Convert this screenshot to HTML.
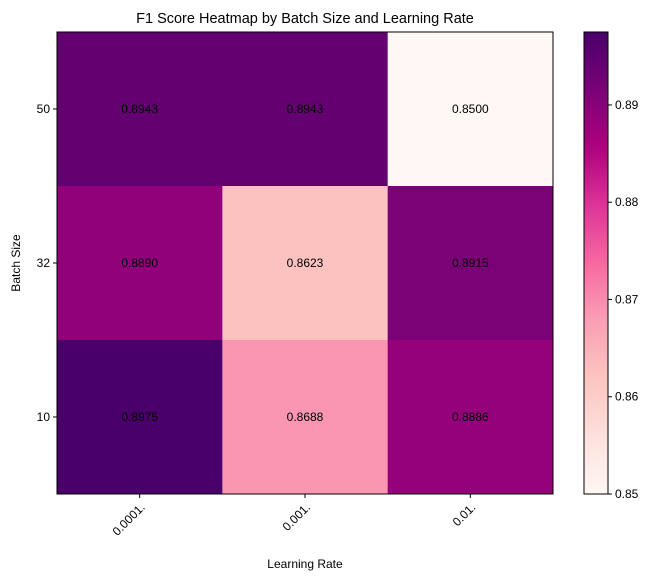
<!DOCTYPE html>
<html><head><meta charset="utf-8"><style>
body{margin:0;background:#fff;}
svg{display:block;font-family:"Liberation Sans",sans-serif;}
</style></head><body>
<svg id="chart" width="657" height="580" viewBox="0 0 657 580">
<defs><linearGradient id="cbg" x1="0" y1="1" x2="0" y2="0"></linearGradient></defs>
<text x="305" y="23" font-size="14.5" text-anchor="middle" fill="#000">F1 Score Heatmap by Batch Size and Learning Rate</text>
<g id="cells"></g>
<g id="axes"></g>
<text x="305" y="568" font-size="12" text-anchor="middle">Learning Rate</text>
<text x="0" y="0" font-size="12" text-anchor="middle" transform="translate(20,263) rotate(-90)">Batch Size</text>
</svg>
<script>
const learningRates = ["0.0001.", "0.001.", "0.01."];
const batchSizes = ["50", "32", "10"];
const f1Values = [
  [0.8943, 0.8943, 0.8500],
  [0.8890, 0.8623, 0.8915],
  [0.8975, 0.8688, 0.8886]
];
const cbTicks = [0.85, 0.86, 0.87, 0.88, 0.89];
const vmin = 0.85, vmax = 0.8975;

const NS = "http://www.w3.org/2000/svg";
const svg = document.getElementById("chart");
const cells = document.getElementById("cells");
const axes = document.getElementById("axes");
const L = 57, R = 553, T = 32, B = 494;
const cw = (R - L) / learningRates.length, ch = (B - T) / batchSizes.length;
const xScale = i => L + i * cw;
const yScale = j => T + j * ch;
const stops = ["#fff7f3","#fde0dd","#fcc5c0","#fa9fb5","#f768a1","#dd3497","#ae017e","#7a0177","#49006a"];
function hex(h){return [1,3,5].map(i=>parseInt(h.substr(i,2),16));}
function cmap(v){
  let t = Math.max(0, Math.min(1, (v - vmin) / (vmax - vmin))) * (stops.length - 1);
  let i = Math.min(Math.floor(t), stops.length - 2), f = t - i;
  const a = hex(stops[i]), b = hex(stops[i+1]);
  return "rgb(" + a.map((c,k)=>Math.round(c + (b[k]-c)*f)).join(",") + ")";
}
function mk(tag, attrs, parent){const e=document.createElementNS(NS,tag);for(const k in attrs)e.setAttribute(k,attrs[k]);(parent||svg).appendChild(e);return e;}

f1Values.forEach((row, j) => row.forEach((v, i) => {
  const r = mk("rect", {x:xScale(i), y:yScale(j), width:cw+0.5, height:ch+0.5, fill:cmap(v)}, cells);
  
  
  const t = mk("text", {x:xScale(i)+cw/2, y:yScale(j)+ch/2+4, "font-size":12, "text-anchor":"middle"}, cells);
  t.textContent = v.toFixed(4);
  
  
}));
const frame = mk("rect", {x:L, y:T, width:R-L, height:B-T, fill:"none", stroke:"#000", "stroke-width":1}, axes);



learningRates.forEach((lab, i) => {
  const x = xScale(i) + cw/2;
  mk("line", {x1:x, x2:x, y1:B, y2:B+4, stroke:"#000"}, axes);
  const t = mk("text", {"font-size":12, "text-anchor":"end", transform:`translate(${x+6},${B+14}) rotate(-45)`}, axes);
  t.textContent = lab;
  
  
});
batchSizes.forEach((lab, j) => {
  const y = yScale(j) + ch/2;
  mk("line", {x1:L-4, x2:L, y1:y, y2:y, stroke:"#000"}, axes);
  const t = mk("text", {x:L-7, y:y+4, "font-size":12, "text-anchor":"end"}, axes);
  t.textContent = lab;
  
  
});

// colorbar
const grad = document.getElementById("cbg");
stops.forEach((c, k) => mk("stop", {offset:(k/(stops.length-1)), "stop-color":c}, grad));
const CL = 584, CR = 608;
const cbY = v => B - (v - vmin) / (vmax - vmin) * (B - T);
const cb = mk("rect", {x:CL, y:T, width:CR-CL, height:B-T, fill:"url(#cbg)", stroke:"#000", "stroke-width":1});


cbTicks.forEach(v => {
  const y = cbY(v);
  mk("line", {x1:CR, x2:CR+4, y1:y, y2:y, stroke:"#000"});
  const t = mk("text", {x:CR+7, y:y+4, "font-size":12}, svg);
  t.textContent = v.toFixed(2);
  
  
});
</script>
</body></html>
